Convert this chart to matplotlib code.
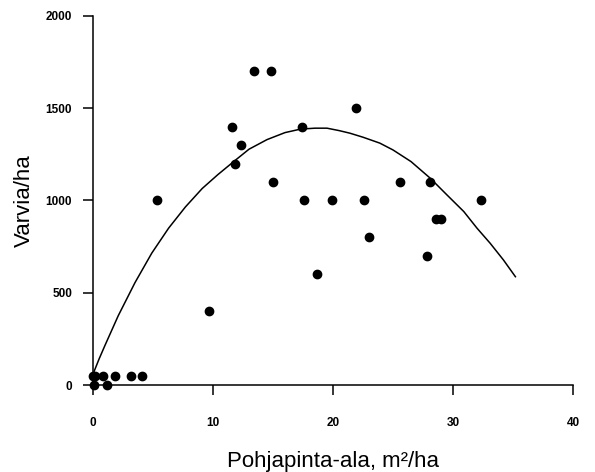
import matplotlib
matplotlib.use("Agg")
import matplotlib.pyplot as plt

# havainnot: pohjapinta-ala (m2/ha) ja varvia/ha
pohjapinta = [0.0, 0.2, 0.8, 1.8, 3.2, 4.1, 0.1, 1.2, 5.3, 9.7, 11.6, 11.8,
              12.3, 13.4, 14.8, 15.0, 17.4, 17.6, 18.7, 19.9, 21.9, 22.6,
              23.0, 25.6, 27.8, 28.1, 28.6, 29.0, 32.3]
varvia = [50, 50, 50, 50, 50, 50, 0, 0, 1000, 400, 1400, 1200,
          1300, 1700, 1700, 1100, 1400, 1000, 600, 1000, 1500, 1000,
          800, 1100, 700, 1100, 900, 900, 1000]

# sovitettu kayra, luettu kuvasta
kayra_x = [0.1, 0.5, 1.0, 2.1, 3.5, 4.9, 6.3, 7.7, 9.1, 10.4, 11.8, 13.0,
           14.5, 16.0, 17.3, 18.5, 19.5, 20.5, 21.4, 22.5, 23.9, 25.0,
           26.5, 28.1, 29.5, 30.9, 32.0, 33.1, 34.2, 35.2]
kayra_y = [75, 140, 215, 375, 555, 715, 850, 965, 1065, 1140, 1215, 1278,
           1330, 1368, 1387, 1392, 1392, 1379, 1365, 1343, 1311, 1274,
           1211, 1121, 1030, 940, 850, 768, 678, 587]

x_ticks = [0, 10, 20, 30, 40]
y_ticks = [0, 500, 1000, 1500, 2000]

plt.rcParams['font.family'] = ['Liberation Sans', 'DejaVu Sans']

W, H = 595, 472
fig = plt.figure(figsize=(W / 100, H / 100), dpi=100)
ax = fig.add_axes([93 / W, (H - 385) / H, (573 - 93) / W, (385 - 16) / H])

ax.plot(kayra_x, kayra_y, color='black', lw=1.1, clip_on=False)
ax.plot(pohjapinta, varvia, 'o', color='black', ms=6, clip_on=False)

ax.set_xlim(0, 40)
ax.set_ylim(0, 2000)
ax.set_xticks(x_ticks)
ax.set_yticks(y_ticks)
ax.set_xticklabels([str(v) for v in x_ticks], fontsize=8.5, fontweight='bold')
ax.set_yticklabels([str(v) for v in y_ticks], fontsize=8.5, fontweight='bold')

for s in ['top', 'right']:
    ax.spines[s].set_visible(False)
for s in ['left', 'bottom']:
    ax.spines[s].set_linewidth(1.1)
ax.tick_params(axis='both', direction='out', length=7, width=1.1)
ax.tick_params(axis='x', pad=16)
ax.tick_params(axis='y', pad=8)

ax.set_xlabel("Pohjapinta-ala, m²/ha", fontsize=16, labelpad=16)
ax.set_ylabel("Varvia/ha", fontsize=16, labelpad=8)

fig.savefig("out.png", dpi=100)
